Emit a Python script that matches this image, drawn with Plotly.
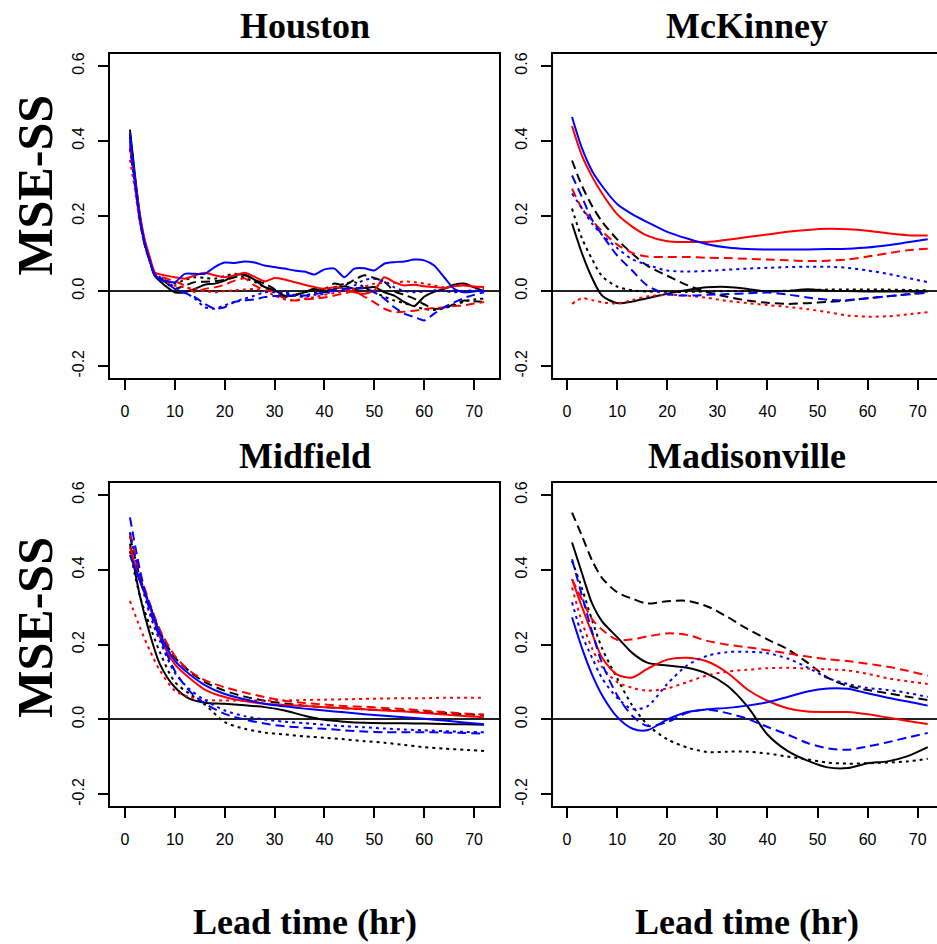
import plotly.graph_objects as go

# ---------------- data ----------------
hou_x = [1, 2, 3, 4, 5, 6, 8, 10, 12, 14, 16, 18, 20, 22, 24, 26, 28, 30, 32, 34, 36, 38,
         40, 42, 44, 46, 48, 50, 52, 54, 56, 58, 60, 62, 64, 66, 68, 70, 72]
hou_black_solid = [0.43, 0.31, 0.20, 0.13, 0.085, 0.040, 0.015, -0.003, -0.003, 0.006, 0.017, 0.020, 0.028, 0.042,
                   0.044, 0.030, 0.011, 0.002, -0.012, -0.012, -0.003, 0.006, -0.003, 0.006, 0.013, 0.006, 0.008,
                   0.011, -0.003, -0.012, -0.029, -0.040, -0.015, -0.002, 0.006, 0.017, 0.020, 0.010, 0.000]
hou_black_dashed = [0.42, 0.30, 0.195, 0.128, 0.083, 0.042, 0.025, 0.006, 0.015, 0.024, 0.025, 0.026, 0.030, 0.037,
                    0.042, 0.030, 0.020, 0.005, -0.016, -0.010, -0.003, 0.002, 0.006, 0.020, 0.015, 0.030, 0.042,
                    0.035, 0.025, 0.000, -0.010, -0.020, -0.035, -0.047, -0.045, -0.035, -0.025, -0.027, -0.029]
hou_black_dotted = [0.41, 0.30, 0.195, 0.125, 0.082, 0.042, 0.030, 0.020, 0.030, 0.037, 0.035, 0.033, 0.040, 0.046,
                    0.035, 0.025, 0.010, -0.002, -0.007, -0.011, -0.012, -0.005, 0.000, 0.010, 0.020, 0.024, 0.010,
                    -0.003, -0.015, -0.025, -0.032, -0.040, -0.048, -0.050, -0.045, -0.038, -0.028, -0.022, -0.020]
hou_red_solid = [0.38, 0.30, 0.205, 0.135, 0.090, 0.050, 0.042, 0.037, 0.033, 0.042, 0.049, 0.042, 0.037, 0.042,
                 0.049, 0.038, 0.026, 0.035, 0.031, 0.024, 0.017, 0.011, 0.006, 0.010, 0.006, -0.003, -0.007,
                 0.002, 0.037, 0.024, 0.015, 0.017, 0.013, 0.011, 0.008, 0.013, 0.015, 0.012, 0.011]
hou_red_dashed = [0.39, 0.29, 0.19, 0.125, 0.080, 0.046, 0.035, 0.026, 0.015, -0.003, 0.006, 0.010, 0.017, 0.028,
                  0.034, 0.015, 0.003, -0.003, -0.020, -0.025, -0.022, -0.020, -0.017, -0.012, -0.006, 0.000, -0.015,
                  -0.030, -0.047, -0.056, -0.055, -0.052, -0.048, -0.045, -0.043, -0.040, -0.038, -0.033, -0.029]
hou_red_dotted = [0.35, 0.27, 0.18, 0.12, 0.080, 0.042, 0.025, 0.015, 0.010, 0.006, 0.000, -0.003, 0.000, 0.002,
                  0.004, 0.006, 0.000, -0.012, -0.022, -0.025, -0.020, -0.016, -0.010, -0.005, 0.000, 0.006, 0.012,
                  0.020, 0.022, 0.022, 0.026, 0.024, 0.020, 0.015, 0.010, 0.013, 0.017, 0.012, 0.006]
hou_blue_solid = [0.42, 0.30, 0.195, 0.125, 0.080, 0.042, 0.028, 0.024, 0.046, 0.046, 0.046, 0.064, 0.076, 0.075,
                  0.079, 0.076, 0.068, 0.064, 0.060, 0.055, 0.052, 0.044, 0.058, 0.060, 0.037, 0.060, 0.061,
                  0.055, 0.073, 0.077, 0.079, 0.084, 0.082, 0.068, 0.037, 0.006, -0.003, -0.001, 0.002]
hou_blue_dashed = [0.40, 0.29, 0.19, 0.122, 0.078, 0.040, 0.025, 0.006, -0.005, -0.016, -0.034, -0.047, -0.043,
                   -0.029, -0.025, -0.022, -0.016, -0.013, -0.012, -0.012, -0.012, -0.008, -0.003, 0.003, 0.006,
                   0.008, 0.008, -0.003, -0.020, -0.043, -0.060, -0.069, -0.078, -0.060, -0.043, -0.030, -0.018,
                   -0.010, -0.003]
hou_blue_dotted = [0.38, 0.28, 0.185, 0.12, 0.078, 0.046, 0.030, 0.010, -0.003, -0.020, -0.043, -0.047, -0.038,
                   -0.028, -0.020, -0.012, -0.003, -0.003, -0.003, -0.010, -0.016, -0.010, -0.007, 0.000, 0.002,
                   0.015, 0.030, 0.033, 0.025, 0.010, 0.000, -0.003, -0.001, 0.002, 0.000, -0.003, 0.000, 0.002,
                   -0.003]

grid_x = [1, 3, 5, 7, 10, 13, 16, 20, 24, 28, 32, 36, 40, 44, 48, 52, 56, 60, 64, 68, 72]

mck_blue_solid = [0.464, 0.38, 0.32, 0.28, 0.232, 0.205, 0.184, 0.158, 0.14, 0.125, 0.116, 0.112, 0.111, 0.111,
                  0.111, 0.112, 0.113, 0.116, 0.122, 0.13, 0.138]
mck_red_solid = [0.44, 0.36, 0.305, 0.26, 0.205, 0.172, 0.148, 0.133, 0.131, 0.131, 0.137, 0.144, 0.151, 0.158,
                 0.163, 0.166, 0.165, 0.161, 0.154, 0.149, 0.148]
mck_red_dashed = [0.273, 0.22, 0.188, 0.16, 0.124, 0.102, 0.092, 0.091, 0.091, 0.089, 0.088, 0.086, 0.084, 0.082,
                  0.08, 0.081, 0.084, 0.092, 0.101, 0.109, 0.113]
mck_black_dashed = [0.348, 0.28, 0.227, 0.185, 0.138, 0.1, 0.068, 0.041, 0.016, -0.003, -0.015, -0.025, -0.031,
                    -0.034, -0.032, -0.029, -0.025, -0.019, -0.014, -0.008, -0.003]
mck_blue_dashed = [0.308, 0.25, 0.19, 0.15, 0.095, 0.055, 0.015, -0.008, -0.012, -0.01, -0.008, -0.006, -0.004,
                   -0.009, -0.017, -0.023, -0.024, -0.019, -0.014, -0.009, -0.004]
mck_blue_dotted = [0.26, 0.22, 0.18, 0.15, 0.115, 0.085, 0.07, 0.055, 0.052, 0.054, 0.057, 0.06, 0.062, 0.064,
                   0.065, 0.065, 0.062, 0.055, 0.046, 0.035, 0.024]
mck_black_dotted = [0.22, 0.14, 0.085, 0.04, 0.012, 0.002, -0.001, -0.002, -0.002, -0.001, 0.0, 0.0, 0.0, 0.001,
                    0.003, 0.004, 0.004, 0.004, 0.004, 0.003, 0.002]
mck_black_solid = [0.18, 0.1, 0.035, -0.012, -0.032, -0.028, -0.019, -0.007, 0.003, 0.01, 0.011, 0.006, -0.001,
                   0.0, 0.005, 0.001, 0.0, -0.001, -0.001, -0.001, -0.001]
mck_red_dotted = [-0.034, -0.019, -0.024, -0.03, -0.033, -0.024, -0.014, -0.01, -0.012, -0.018, -0.026, -0.032,
                  -0.037, -0.042, -0.048, -0.056, -0.065, -0.068, -0.067, -0.062, -0.056]

mid_blue_dashed = [0.54, 0.4, 0.29, 0.22, 0.13, 0.075, 0.043, 0.015, 0.0, -0.011, -0.018, -0.022, -0.025, -0.029,
                   -0.032, -0.034, -0.034, -0.034, -0.035, -0.036, -0.038]
mid_blue_dotted = [0.5, 0.38, 0.28, 0.21, 0.125, 0.08, 0.052, 0.024, 0.009, 0.0, -0.006, -0.01, -0.014, -0.018,
                   -0.021, -0.024, -0.027, -0.029, -0.031, -0.033, -0.034]
mid_black_dotted = [0.45, 0.33, 0.25, 0.18, 0.1, 0.068, 0.04, -0.007, -0.025, -0.035, -0.04, -0.045, -0.049,
                    -0.053, -0.058, -0.062, -0.068, -0.074, -0.078, -0.081, -0.084]
mid_black_dashed = [0.49, 0.38, 0.305, 0.235, 0.166, 0.128, 0.1, 0.077, 0.061, 0.05, 0.043, 0.037, 0.033, 0.03,
                    0.027, 0.025, 0.023, 0.02, 0.017, 0.014, 0.012]
mid_red_dashed = [0.5, 0.39, 0.31, 0.24, 0.17, 0.13, 0.105, 0.086, 0.072, 0.06, 0.05, 0.044, 0.04, 0.036, 0.034,
                  0.031, 0.028, 0.024, 0.02, 0.016, 0.013]
mid_red_solid = [0.46, 0.37, 0.3, 0.22, 0.148, 0.11, 0.08, 0.06, 0.049, 0.042, 0.039, 0.036, 0.033, 0.03, 0.027,
                 0.024, 0.021, 0.017, 0.013, 0.009, 0.006]
mid_blue_solid = [0.44, 0.37, 0.305, 0.23, 0.157, 0.12, 0.092, 0.068, 0.054, 0.042, 0.035, 0.029, 0.024, 0.019,
                  0.014, 0.01, 0.006, 0.002, -0.003, -0.008, -0.013]
mid_black_solid = [0.47, 0.33, 0.228, 0.148, 0.086, 0.055, 0.045, 0.042, 0.038, 0.033, 0.024, 0.01, -0.001, -0.006,
                   -0.009, -0.01, -0.01, -0.011, -0.012, -0.013, -0.014]
mid_red_dotted = [0.317, 0.246, 0.184, 0.131, 0.077, 0.06, 0.052, 0.051, 0.051, 0.051, 0.051, 0.052, 0.053, 0.054,
                  0.055, 0.056, 0.057, 0.057, 0.058, 0.058, 0.058]

mad_black_dashed = [0.553, 0.49, 0.425, 0.378, 0.34, 0.323, 0.31, 0.316, 0.317, 0.302, 0.274, 0.242, 0.214, 0.188,
                    0.152, 0.112, 0.09, 0.079, 0.07, 0.061, 0.052]
mad_black_solid = [0.473, 0.39, 0.31, 0.262, 0.22, 0.178, 0.152, 0.144, 0.138, 0.122, 0.09, 0.035, -0.04, -0.084,
                   -0.11, -0.128, -0.13, -0.117, -0.112, -0.098, -0.074]
mad_red_dashed = [0.375, 0.32, 0.268, 0.24, 0.213, 0.214, 0.222, 0.23, 0.226, 0.21, 0.2, 0.193, 0.185, 0.177, 0.168,
                  0.161, 0.156, 0.149, 0.141, 0.13, 0.117]
mad_red_solid = [0.375, 0.3, 0.23, 0.165, 0.12, 0.112, 0.135, 0.16, 0.165, 0.155, 0.125, 0.08, 0.05, 0.03, 0.021,
                 0.02, 0.02, 0.014, 0.005, -0.004, -0.012]
mad_red_dotted = [0.353, 0.26, 0.19, 0.14, 0.1, 0.085, 0.077, 0.083, 0.1, 0.118, 0.128, 0.133, 0.137, 0.138, 0.136,
                  0.134, 0.131, 0.122, 0.11, 0.102, 0.095]
mad_blue_solid = [0.273, 0.19, 0.12, 0.065, 0.007, -0.024, -0.029, 0.0, 0.02, 0.027, 0.031, 0.037, 0.046, 0.06,
                  0.075, 0.083, 0.082, 0.07, 0.058, 0.048, 0.037]
mad_blue_dashed = [0.428, 0.33, 0.235, 0.15, 0.065, 0.01, -0.017, -0.007, 0.018, 0.026, 0.017, 0.002, -0.02, -0.04,
                   -0.063, -0.077, -0.081, -0.072, -0.061, -0.048, -0.036]
mad_blue_dotted = [0.313, 0.225, 0.165, 0.11, 0.058, 0.028, 0.035, 0.095, 0.145, 0.17, 0.18, 0.181, 0.177, 0.163,
                   0.139, 0.111, 0.095, 0.084, 0.079, 0.071, 0.06]
mad_black_dotted = [0.424, 0.35, 0.265, 0.19, 0.11, 0.038, -0.013, -0.053, -0.075, -0.087, -0.086, -0.086, -0.091,
                    -0.099, -0.107, -0.115, -0.118, -0.117, -0.115, -0.112, -0.105]

panel_titles = ["Houston", "McKinney", "Midfield", "Madisonville"]
y_tickvals = [-0.2, 0.0, 0.2, 0.4, 0.6]
y_ticktext = ["-0.2", "0.0", "0.2", "0.4", "0.6"]
x_tickvals = [0, 10, 20, 30, 40, 50, 60, 70]
y_label = "MSE-SS"
x_label = "Lead time (hr)"

# ---------------- styles ----------------
COL = {"black": "#000000", "red": "#FF0000", "blue": "#0000FF"}
DASH = {"solid": "solid", "dashed": "9px,5px", "dotted": "3px,4px"}

panels = [
    (hou_x, {("black", "solid"): hou_black_solid, ("black", "dashed"): hou_black_dashed,
             ("black", "dotted"): hou_black_dotted, ("red", "solid"): hou_red_solid,
             ("red", "dashed"): hou_red_dashed, ("red", "dotted"): hou_red_dotted,
             ("blue", "solid"): hou_blue_solid, ("blue", "dashed"): hou_blue_dashed,
             ("blue", "dotted"): hou_blue_dotted}),
    (grid_x, {("black", "solid"): mck_black_solid, ("black", "dashed"): mck_black_dashed,
              ("black", "dotted"): mck_black_dotted, ("red", "solid"): mck_red_solid,
              ("red", "dashed"): mck_red_dashed, ("red", "dotted"): mck_red_dotted,
              ("blue", "solid"): mck_blue_solid, ("blue", "dashed"): mck_blue_dashed,
              ("blue", "dotted"): mck_blue_dotted}),
    (grid_x, {("black", "solid"): mid_black_solid, ("black", "dashed"): mid_black_dashed,
              ("black", "dotted"): mid_black_dotted, ("red", "solid"): mid_red_solid,
              ("red", "dashed"): mid_red_dashed, ("red", "dotted"): mid_red_dotted,
              ("blue", "solid"): mid_blue_solid, ("blue", "dashed"): mid_blue_dashed,
              ("blue", "dotted"): mid_blue_dotted}),
    (grid_x, {("black", "solid"): mad_black_solid, ("black", "dashed"): mad_black_dashed,
              ("black", "dotted"): mad_black_dotted, ("red", "solid"): mad_red_solid,
              ("red", "dashed"): mad_red_dashed, ("red", "dotted"): mad_red_dotted,
              ("blue", "solid"): mad_blue_solid, ("blue", "dashed"): mad_blue_dashed,
              ("blue", "dotted"): mad_blue_dotted}),
]

W, H = 937, 944
# plot boxes in pixels: (left, right, top, bottom)
boxes = [(110, 499, 52, 377), (553, 937, 52, 377), (110, 499, 482, 806), (553, 937, 482, 806)]
xranges = [[-3.0, 75.0], [-2.8, 73.85], [-3.0, 75.0], [-2.8, 73.85]]
box_centers_x = [305, 747, 305, 747]

fig = go.Figure()
for i, (xs, series) in enumerate(panels):
    ax = "" if i == 0 else str(i + 1)
    for (c, d), ys in series.items():
        fig.add_trace(go.Scatter(
            x=xs, y=ys, mode="lines", xaxis="x" + ax, yaxis="y" + ax,
            line=dict(color=COL[c], width=2, dash=DASH[d], shape="spline", smoothing=0.8 if i else 0.6),
            showlegend=False, hoverinfo="skip"))

layout = dict(width=W, height=H, margin=dict(l=0, r=0, t=0, b=0),
              paper_bgcolor="white", plot_bgcolor="white", showlegend=False)
tickfont = dict(family="Liberation Sans, Arial, sans-serif", size=16, color="black")
for i, (l, r, t, b) in enumerate(boxes):
    ax = "" if i == 0 else str(i + 1)
    right_panel = i in (1, 3)
    layout["xaxis" + ax] = dict(
        domain=[l / W, min(r / W, 1.0)], range=xranges[i], anchor="y" + ax,
        tickvals=x_tickvals, ticks="outside", ticklen=10, tickwidth=1.5, tickcolor="black",
        showline=True, linecolor="black", linewidth=2, mirror=True,
        showgrid=False, zeroline=False, tickfont=tickfont, ticklabelstandoff=8, fixedrange=True)
    layout["yaxis" + ax] = dict(
        domain=[1 - b / H, 1 - t / H], range=[-0.232, 0.632], anchor="x" + ax,
        tickvals=y_tickvals, ticktext=y_ticktext, tickangle=-90,
        ticks="outside", ticklen=10, tickwidth=1.5, tickcolor="black",
        showline=True, linecolor="black", linewidth=2, mirror=not right_panel,
        showgrid=False, zeroline=True, zerolinecolor="#222222", zerolinewidth=2,
        tickfont=tickfont, ticklabelstandoff=8, fixedrange=True)

annotations = []
title_y = [24, 24, 455, 455]
for i, name in enumerate(panel_titles):
    annotations.append(dict(text="<b>" + name + "</b>", x=box_centers_x[i] / W, y=1 - title_y[i] / H,
                            xref="paper", yref="paper", xanchor="center", yanchor="middle", showarrow=False,
                            font=dict(family="Liberation Serif, Times New Roman, serif", size=36, color="black")))
for yc in (184, 627):
    annotations.append(dict(text="<b>" + y_label + "</b>", x=35 / W, y=1 - yc / H, textangle=-90,
                            xref="paper", yref="paper", xanchor="center", yanchor="middle", showarrow=False,
                            font=dict(family="Liberation Serif, Times New Roman, serif", size=50, color="black")))
for xc in (305, 747):
    annotations.append(dict(text="<b>" + x_label + "</b>", x=xc / W, y=1 - 922 / H,
                            xref="paper", yref="paper", xanchor="center", yanchor="middle", showarrow=False,
                            font=dict(family="Liberation Serif, Times New Roman, serif", size=36, color="black")))
layout["annotations"] = annotations

fig.update_layout(**layout)
fig.write_html("out.html")
